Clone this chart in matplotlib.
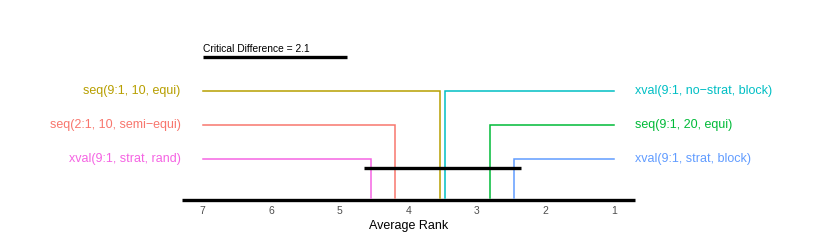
import numpy as np
import matplotlib
matplotlib.use("Agg")
import matplotlib.pyplot as plt

plt.rcParams['font.family'] = ['Liberation Sans', 'DejaVu Sans']

# average ranks (lower is better)
left_names = ["seq(9:1, 10, equi)", "seq(2:1, 10, semi\u2212equi)", "xval(9:1, strat, rand)"]
left_ranks = [3.54, 4.19, 4.54]
left_colors = ["#B79F00", "#F8766D", "#F564E3"]

right_names = ["xval(9:1, no\u2212strat, block)", "seq(9:1, 20, equi)", "xval(9:1, strat, block)"]
right_ranks = [3.46, 2.81, 2.46]
right_colors = ["#00BFC4", "#00BA38", "#619CFF"]

cd = 2.1
n_methods = 7
tick_vals = [7, 6, 5, 4, 3, 2, 1]

fig = plt.figure(figsize=(8.3, 2.49), dpi=100)
ax = fig.add_axes([0, 0, 1, 1])
ax.set_xlim(9.952, -2.147)
ax.set_ylim(249, 0)
ax.axis('off')

axis_y = 200
row_y = [91, 125, 159]

# rank axis
ax.plot([n_methods + 0.3, 0.7], [axis_y, axis_y], color='black', lw=2.4, solid_capstyle='butt')
for t in tick_vals:
    ax.text(t, 211, str(t), ha='center', va='center', fontsize=7.5, color='#4d4d4d')
ax.text(4, 226, "Average Rank", ha='center', va='center', fontsize=9, color='black')

# left side methods
for name, r, c, y in zip(left_names, left_ranks, left_colors, row_y):
    ax.plot([n_methods, r, r], [y, y, axis_y - 2], color=c, lw=1.1, solid_joinstyle='miter')
    ax.text(n_methods + 0.32, y, name, ha='right', va='center', fontsize=9, color=c)

# right side methods
for name, r, c, y in zip(right_names, right_ranks, right_colors, row_y):
    ax.plot([1, r, r], [y, y, axis_y - 2], color=c, lw=1.1, solid_joinstyle='miter')
    ax.text(1 - 0.3, y, name, ha='left', va='center', fontsize=9, color=c)

# clique bar (no significant difference)
all_ranks = left_ranks + right_ranks
ax.plot([max(all_ranks) + 0.1, min(all_ranks) - 0.1], [168, 168], color='black', lw=2.4, solid_capstyle='butt')

# critical difference bar
ax.plot([n_methods, n_methods - cd], [57, 57], color='black', lw=2.4, solid_capstyle='butt')
ax.text(n_methods, 54, "Critical Difference = %.1f" % cd, ha='left', va='bottom', fontsize=7.4, color='black')

fig.savefig("out.png", dpi=100)
